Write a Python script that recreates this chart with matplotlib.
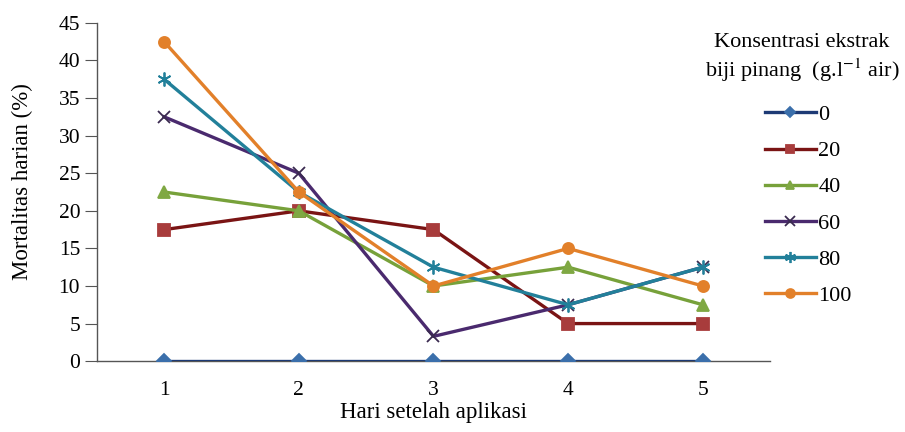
import matplotlib
matplotlib.use("Agg")
import matplotlib.pyplot as plt

plt.rcParams['font.family'] = ['Liberation Serif', 'DejaVu Serif']
plt.rcParams['mathtext.fontset'] = 'stix'

days = [1, 2, 3, 4, 5]
labels = ["0", "20", "40", "60", "80", "100"]
s0 = [0, 0, 0, 0, 0]
s20 = [17.5, 20, 17.5, 5, 5]
s40 = [22.5, 20, 10, 12.5, 7.5]
s60 = [32.5, 25, 3.3, 7.5, 12.5]
s80 = [37.5, 22.5, 12.5, 7.5, 12.5]
s100 = [42.5, 22.5, 10, 15, 10]

series = [s0, s20, s40, s60, s80, s100]
line_colors = ["#1d3a75", "#7a1414", "#77a13a", "#4a2a6e", "#22809a", "#e2802a"]
face_colors = ["#3b6fab", "#a83c3c", "#7fa843", "#3a2a50", "#22809a", "#e2802a"]
markers = ["D", "s", "^", "x", (6, 2, 0), "o"]
msizes = [7, 8, 8, 9, 10, 8]

fig = plt.figure(figsize=(9.05, 4.32), dpi=100)
ax = fig.add_axes([0.107, 0.164, 0.744, 0.783])

for i, ys in enumerate(series):
    ax.plot(days, ys, color=line_colors[i], lw=2.4, marker=markers[i], ms=msizes[i],
            mfc=face_colors[i], mec=face_colors[i],
            mew=1.3, label=labels[i], zorder=3 + i)

ax.set_xlim(0.5, 5.5)
ax.set_ylim(0, 45)
ax.set_yticks(range(0, 46, 5))
ax.set_xticks(days)
ax.tick_params(axis='y', direction='out', length=9, color='#555555', labelsize=15.5, pad=3)
ax.tick_params(axis='x', length=0, labelsize=15.5, pad=14)
for sp in ["top", "right"]:
    ax.spines[sp].set_visible(False)
for sp in ["left", "bottom"]:
    ax.spines[sp].set_color('#555555')
    ax.spines[sp].set_linewidth(1.0)
ax.spines['bottom'].set_zorder(0)

ax.set_ylabel("Mortalitas harian (%)", fontsize=16.5)
ax.yaxis.set_label_coords(-0.095, 0.53)
ax.set_xlabel("Hari setelah aplikasi", fontsize=16.5, labelpad=2)

fig.text(0.886, 0.865, "Konsentrasi ekstrak\nbiji pinang  (g.l$^{-1}$ air)",
         fontsize=16, ha='center', va='center', linespacing=1.25)

leg = fig.legend(loc='upper center', bbox_to_anchor=(0.893, 0.804), frameon=False,
                 fontsize=16, handlelength=2.3,
                 handletextpad=0.1, labelspacing=0.7, markerscale=0.8)

fig.savefig("out.png", dpi=100)
